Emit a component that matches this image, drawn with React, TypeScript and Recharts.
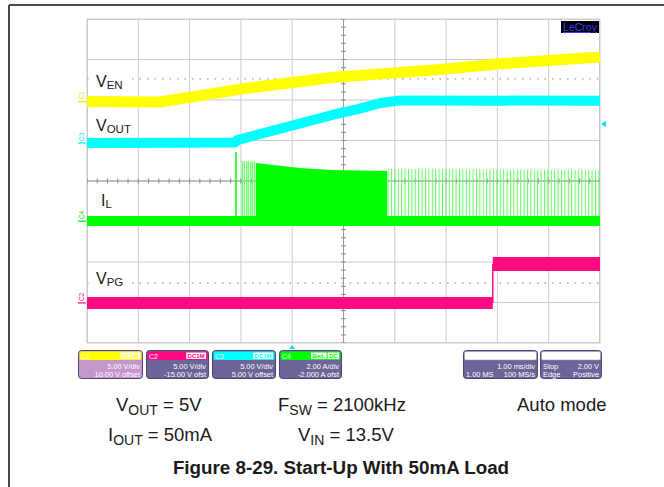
import React from "react";
import {
  ComposedChart,
  Line,
  Area,
  Scatter,
  XAxis,
  YAxis,
  CartesianGrid,
  ReferenceDot,
} from "recharts";

const FONT = '"Liberation Sans", Arial, Helvetica, sans-serif';

// Screen: 10 horizontal divisions of 1.00 ms, 8 vertical divisions (levels in divisions from centre)
const TIME_TICKS = [0, 1, 2, 3, 4, 5, 6, 7, 8, 9, 10];
const DIV_TICKS = [-4, -3, -2, -1, 0, 1, 2, 3, 4];
const MINOR_T = Array.from({ length: 51 }, (_, i) => i * 0.2);
const MINOR_V = Array.from({ length: 41 }, (_, i) => -4 + i * 0.2);

// C1 : V_EN (yellow)
const EN_T = [0, 1.42, 3.0, 4.78, 7.0, 8.0, 10];
const EN_V = [1.96, 1.95, 2.27, 2.555, 2.765, 2.89, 3.06];

// C3 : V_OUT (cyan)
const OUT_T = [0, 2.88, 2.93, 4.78, 5.3, 5.7, 6.1, 10];
const OUT_V = [0.94, 0.95, 1.01, 1.63, 1.78, 1.92, 1.99, 1.98];

// C4 : I_L (green) baseline
const IL_BASE = -0.99;
const IL_T = [0, 10];
const IL_V = [IL_BASE, IL_BASE];
// I_L dense switching burst (envelope top)
const IL_DENSE_T = [3.29, 4.15, 4.78, 5.85];
const IL_DENSE_TOP = [0.444, 0.32, 0.27, 0.25];
// I_L sparse (auto-mode) pulses envelope
const IL_SPARSE_T = [5.85, 10];
const IL_SPARSE_TOP = [0.3, 0.27];
// first isolated pulses
const IL_SPIKE_T = [2.904, 3.027, 3.066, 3.113, 3.144, 3.191, 3.222, 3.261];
const IL_SPIKE_TOP = [0.716, 0.49, 0.49, 0.49, 0.49, 0.49, 0.49, 0.49];

// C2 : V_PG (magenta)
const PG_LOW_T = [0, 7.91];
const PG_LOW_V = [-3.01, -3.01];
const PG_HIGH_T = [7.91, 10];
const PG_HIGH_V = [-2.05, -2.05];

// trigger / level markers
const TRIG_LEVELS = [2.52, -2.52];
const TRIG_TIME = 4.0;
const TRIG_LEVEL_MARK = 1.41;

// channel ground markers
const CH_MARKS = [
  { name: "C1", level: 1.96, color: "#e8e800" },
  { name: "C3", level: 0.94, color: "#00e5ff" },
  { name: "C4", level: -0.99, color: "#00e000" },
  { name: "C2", level: -3.01, color: "#ff0a80" },
];

const YEL = "#ffff00";
const CYA = "#00ffff";
const GRN = "#00ff00";
const MAG = "#ff0a80";

const pts = (ts: number[], vs: number[]) => ts.map((t, i) => ({ t, v: vs[i] }));
const band = (ts: number[], tops: number[]) => ts.map((t, i) => ({ t, v: [IL_BASE, tops[i]] }));

function ChannelMark(props: any) {
  const { cx, cy, name, color } = props;
  return (
    <g>
      <text
        x={cx - 3}
        y={cy - 2}
        transform={`rotate(-90 ${cx - 3} ${cy - 2})`}
        fontSize={6.5}
        fill={color}
        fontFamily={FONT}
      >
        {name}
      </text>
      <line x1={cx - 9} y1={cy} x2={cx - 1} y2={cy} stroke={color} strokeWidth={1.2} />
    </g>
  );
}

const BOX_FS = 7.4;

function InfoBox(props: any) {
  const { x, w, head, body, name, nameColor, badges, l1L, l1R, l2L, l2R, headStroke } = props;
  const y = 350;
  const h = 29;
  let bx = x + w - 3;
  return (
    <g fontFamily={FONT}>
      <rect x={x + 0.5} y={y + 0.5} width={w - 1} height={h - 1} rx={3} fill={body} stroke="#4b4676" />
      <rect
        x={x + 1.5}
        y={y + 1.5}
        width={w - 3}
        height={8.5}
        rx={1.5}
        fill={head}
        stroke={headStroke || "none"}
        strokeWidth={0.6}
      />
      {name && (
        <text x={x + 3} y={y + 8.6} fontSize={7} fill={nameColor || "#fff"}>
          {name}
        </text>
      )}
      {(badges || [])
        .slice()
        .reverse()
        .map((b: string, i: number) => {
          const bw = 3 + b.length * 4.2;
          bx -= bw + 1;
          return (
            <g key={i}>
              <rect x={bx + 1} y={y + 2.5} width={bw} height={6.5} fill="#ffffff" />
              <text x={bx + 1 + bw / 2} y={y + 8.3} fontSize={6} fill={head} textAnchor="middle" fontWeight="bold">
                {b}
              </text>
            </g>
          );
        })}
      {l1L && (
        <text x={x + 3} y={y + 18.5} fontSize={BOX_FS} fill="#fff">
          {l1L}
        </text>
      )}
      {l1R && (
        <text x={x + w - 3} y={y + 18.5} fontSize={BOX_FS} fill="#fff" textAnchor="end">
          {l1R}
        </text>
      )}
      {l2L && (
        <text x={x + 3} y={y + 26.8} fontSize={BOX_FS} fill="#fff">
          {l2L}
        </text>
      )}
      {l2R && (
        <text x={x + w - 3} y={y + 26.8} fontSize={BOX_FS} fill="#fff" textAnchor="end">
          {l2R}
        </text>
      )}
    </g>
  );
}

function Label(props: any) {
  const { x, y, main, sub, size, subSize, dy, bg } = props;
  return (
    <g fontFamily={FONT}>
      {bg && <rect x={bg[0]} y={bg[1]} width={bg[2]} height={bg[3]} fill="#fff" />}
      <text x={x} y={y} fontSize={size} fill="#1a1a1a">
        {main}
        <tspan fontSize={subSize} dy={dy}>
          {sub}
        </tspan>
      </text>
    </g>
  );
}

function CapText(props: any) {
  const { x, y, main, sub, rest } = props;
  return (
    <text x={x} y={y} fontSize={18.5} fill="#1a1a1a" fontFamily={FONT}>
      {main}
      {sub && (
        <tspan fontSize={14} dy={4}>
          {sub}
        </tspan>
      )}
      <tspan dy={sub ? -4 : 0}>{rest}</tspan>
    </text>
  );
}

export default function App() {
  return (
    <div style={{ position: "absolute", left: 0, top: 0, width: 664, height: 487, background: "#fff", overflow: "hidden" }}>
      <svg width={0} height={0} style={{ position: "absolute" }}>
        <defs>
          <pattern id="ilSparse" x="0" y="0" width="3.4" height="10" patternUnits="userSpaceOnUse">
            <rect x="0" y="0" width="1" height="10" fill="#5cff5c" />
          </pattern>
        </defs>
      </svg>
      <div style={{ position: "absolute", left: 0, top: 0 }}>
        <ComposedChart width={664} height={487} margin={{ top: 19, right: 64, bottom: 144, left: 87 }}>
          <XAxis type="number" dataKey="t" domain={[0, 10]} ticks={TIME_TICKS} hide allowDataOverflow />
          <YAxis type="number" dataKey="v" domain={[-4, 4]} ticks={DIV_TICKS} hide allowDataOverflow />
          <CartesianGrid stroke="#cdcdcd" strokeWidth={1} />

          {/* trigger level dotted lines */}
          {TRIG_LEVELS.map((lv, i) => (
            <Line
              key={"tl" + i}
              data={pts([0, 10], [lv, lv])}
              dataKey="v"
              stroke="#9a9a9a"
              strokeWidth={1.2}
              strokeDasharray="1.5 6"
              dot={false}
              activeDot={false}
              isAnimationActive={false}
              zIndex={-60}
            />
          ))}
          {/* centre cross */}
          <Line data={pts([0, 10], [0, 0])} dataKey="v" stroke="#9c9c9c" strokeWidth={1} dot={false} activeDot={false} isAnimationActive={false} zIndex={-50} />
          <Line data={pts([5, 5], [-4, 4])} dataKey="v" stroke="#9c9c9c" strokeWidth={1} dot={false} activeDot={false} isAnimationActive={false} zIndex={-50} />
          {/* border */}
          <Line data={pts([0, 10, 10, 0, 0], [4, 4, -4, -4, 4])} dataKey="v" stroke="#b4b4b4" strokeWidth={1.2} dot={false} activeDot={false} isAnimationActive={false} zIndex={-50} />
          <Scatter
            data={MINOR_T.map((t) => ({ t, v: 0 }))}
            dataKey="v"
            isAnimationActive={false}
            zIndex={-40}
            shape={(p: any) => <line x1={p.cx} y1={p.cy - 2.5} x2={p.cx} y2={p.cy + 2.5} stroke="#8a8a8a" strokeWidth={1} />}
          />
          <Scatter
            data={MINOR_V.map((v) => ({ t: 5, v }))}
            dataKey="v"
            isAnimationActive={false}
            zIndex={-40}
            shape={(p: any) => <line x1={p.cx - 2.5} y1={p.cy} x2={p.cx + 2.5} y2={p.cy} stroke="#8a8a8a" strokeWidth={1} />}
          />

          {/* I_L switching */}
          <Area
            data={band(IL_SPARSE_T, IL_SPARSE_TOP)}
            dataKey="v"
            type="linear"
            stroke="none"
            fill="url(#ilSparse)"
            fillOpacity={1}
            isAnimationActive={false}
            dot={false}
            activeDot={false}
          />
          <Area
            data={band(IL_DENSE_T, IL_DENSE_TOP)}
            dataKey="v"
            type="linear"
            stroke="none"
            fill={GRN}
            fillOpacity={1}
            isAnimationActive={false}
            dot={false}
            activeDot={false}
          />
          {IL_SPIKE_T.map((t, i) => (
            <Line
              key={"sp" + i}
              data={pts([t, t], [IL_BASE, IL_SPIKE_TOP[i]])}
              dataKey="v"
              stroke={i === 0 ? GRN : "#4dff4d"}
              strokeWidth={i === 0 ? 1.5 : 1.1}
              dot={false}
              activeDot={false}
              isAnimationActive={false}
            />
          ))}
          <Line data={pts(IL_T, IL_V)} dataKey="v" stroke={GRN} strokeWidth={10} strokeLinecap="butt" dot={false} activeDot={false} isAnimationActive={false} />

          {/* V_EN */}
          <Line data={pts(EN_T, EN_V)} dataKey="v" type="linear" stroke={YEL} strokeWidth={11} strokeLinecap="butt" strokeLinejoin="round" dot={false} activeDot={false} isAnimationActive={false} />
          {/* V_OUT */}
          <Line data={pts(OUT_T, OUT_V)} dataKey="v" type="linear" stroke={CYA} strokeWidth={10} strokeLinecap="butt" strokeLinejoin="round" dot={false} activeDot={false} isAnimationActive={false} />
          {/* V_PG */}
          <Line data={pts(PG_LOW_T, PG_LOW_V)} dataKey="v" stroke={MAG} strokeWidth={12} strokeLinecap="butt" dot={false} activeDot={false} isAnimationActive={false} />
          <Line data={pts(PG_HIGH_T, PG_HIGH_V)} dataKey="v" stroke={MAG} strokeWidth={14} strokeLinecap="butt" dot={false} activeDot={false} isAnimationActive={false} />
          <Line data={pts([PG_LOW_T[1], PG_HIGH_T[0]], [PG_LOW_V[1], PG_HIGH_V[0]])} dataKey="v" stroke={MAG} strokeWidth={1.5} dot={false} activeDot={false} isAnimationActive={false} />

          {/* channel ground markers */}
          {CH_MARKS.map((m) => (
            <ReferenceDot
              key={m.name}
              x={0}
              y={m.level}
              ifOverflow="visible"
              shape={(p: any) => <ChannelMark cx={p.cx} cy={p.cy} name={m.name} color={m.color} />}
            />
          ))}
          {/* trigger level marker (right) */}
          <ReferenceDot
            x={10}
            y={TRIG_LEVEL_MARK}
            ifOverflow="visible"
            shape={(p: any) => (
              <polygon points={`${p.cx + 1},${p.cy} ${p.cx + 6},${p.cy - 3} ${p.cx + 6},${p.cy + 3}`} fill="#00d8ff" />
            )}
          />
          {/* trigger time marker (bottom) */}
          <ReferenceDot
            x={TRIG_TIME}
            y={-4}
            ifOverflow="visible"
            shape={(p: any) => (
              <polygon points={`${p.cx},${p.cy + 2} ${p.cx - 3},${p.cy + 6} ${p.cx + 3},${p.cy + 6}`} fill="#00d8ff" />
            )}
          />
        </ComposedChart>
      </div>

      <svg width={664} height={487} style={{ position: "absolute", left: 0, top: 0, pointerEvents: "none" }}>
        {/* figure frame */}
        <line x1={9} y1={5} x2={664} y2={5} stroke="#4a4a4a" strokeWidth={2} />
        <line x1={9} y1={5} x2={9} y2={487} stroke="#4a4a4a" strokeWidth={2} />

        {/* LeCroy logo */}
        <rect x={561} y={21} width={38} height={12} fill="#000" />
        <text x={580} y={31} fontSize={10.5} fill="#3a3aff" textAnchor="middle" fontFamily={FONT} textDecoration="underline">
          LeCroy
        </text>

        {/* trace labels */}
        <Label x={96} y={87} main="V" sub="EN" size={16} subSize={11.5} dy={2} bg={[93, 73, 34, 18]} />
        <Label x={96} y={131} main="V" sub="OUT" size={16} subSize={11.5} dy={2} />
        <Label x={101} y={206} main="I" sub="L" size={16} subSize={11.5} dy={2} />
        <Label x={96} y={284} main="V" sub="PG" size={16} subSize={11.5} dy={2} bg={[93, 270, 34, 18]} />

        {/* info boxes */}
        <InfoBox x={78} w={65} head={YEL} body="#c496cc" name="C1" badges={["DC1M"]} l1R="5.00 V/div" l2R="10.00 V offset" />
        <InfoBox x={146} w={63} head={MAG} body="#6c6597" name="C2" badges={["DC1M"]} l1R="5.00 V/div" l2R="-15.00 V ofst" />
        <InfoBox x={212} w={64} head={CYA} body="#6c6597" name="C3" badges={["DC1M"]} l1R="5.00 V/div" l2R="5.00 V offset" />
        <InfoBox x={279} w={63} head={GRN} body="#6c6597" name="C4" badges={["BwL", "DC"]} l1R="2.00 A/div" l2R="-2.000 A ofst" />
        <InfoBox x={463} w={75} head="#ffffff" headStroke="#9a96b8" body="#6c6597" l1R="1.00 ms/div" l2L="1.00 MS" l2R="100 MS/s" />
        <InfoBox x={540} w={62} head="#ffffff" headStroke="#9a96b8" body="#6c6597" l1L="Stop" l1R="2.00 V" l2L="Edge" l2R="Positive" />

        {/* caption */}
        <CapText x={116} y={411} main="V" sub="OUT" rest=" = 5V" />
        <CapText x={278} y={411} main="F" sub="SW" rest=" = 2100kHz" />
        <CapText x={517} y={411} main="Auto mode" rest="" />
        <CapText x={108} y={441} main="I" sub="OUT" rest=" = 50mA" />
        <CapText x={298} y={441} main="V" sub="IN" rest=" = 13.5V" />
        <text x={341} y={474} fontSize={18.8} fontWeight="bold" fill="#1a1a1a" textAnchor="middle" fontFamily={FONT}>
          Figure 8-29. Start-Up With 50mA Load
        </text>
      </svg>
    </div>
  );
}
